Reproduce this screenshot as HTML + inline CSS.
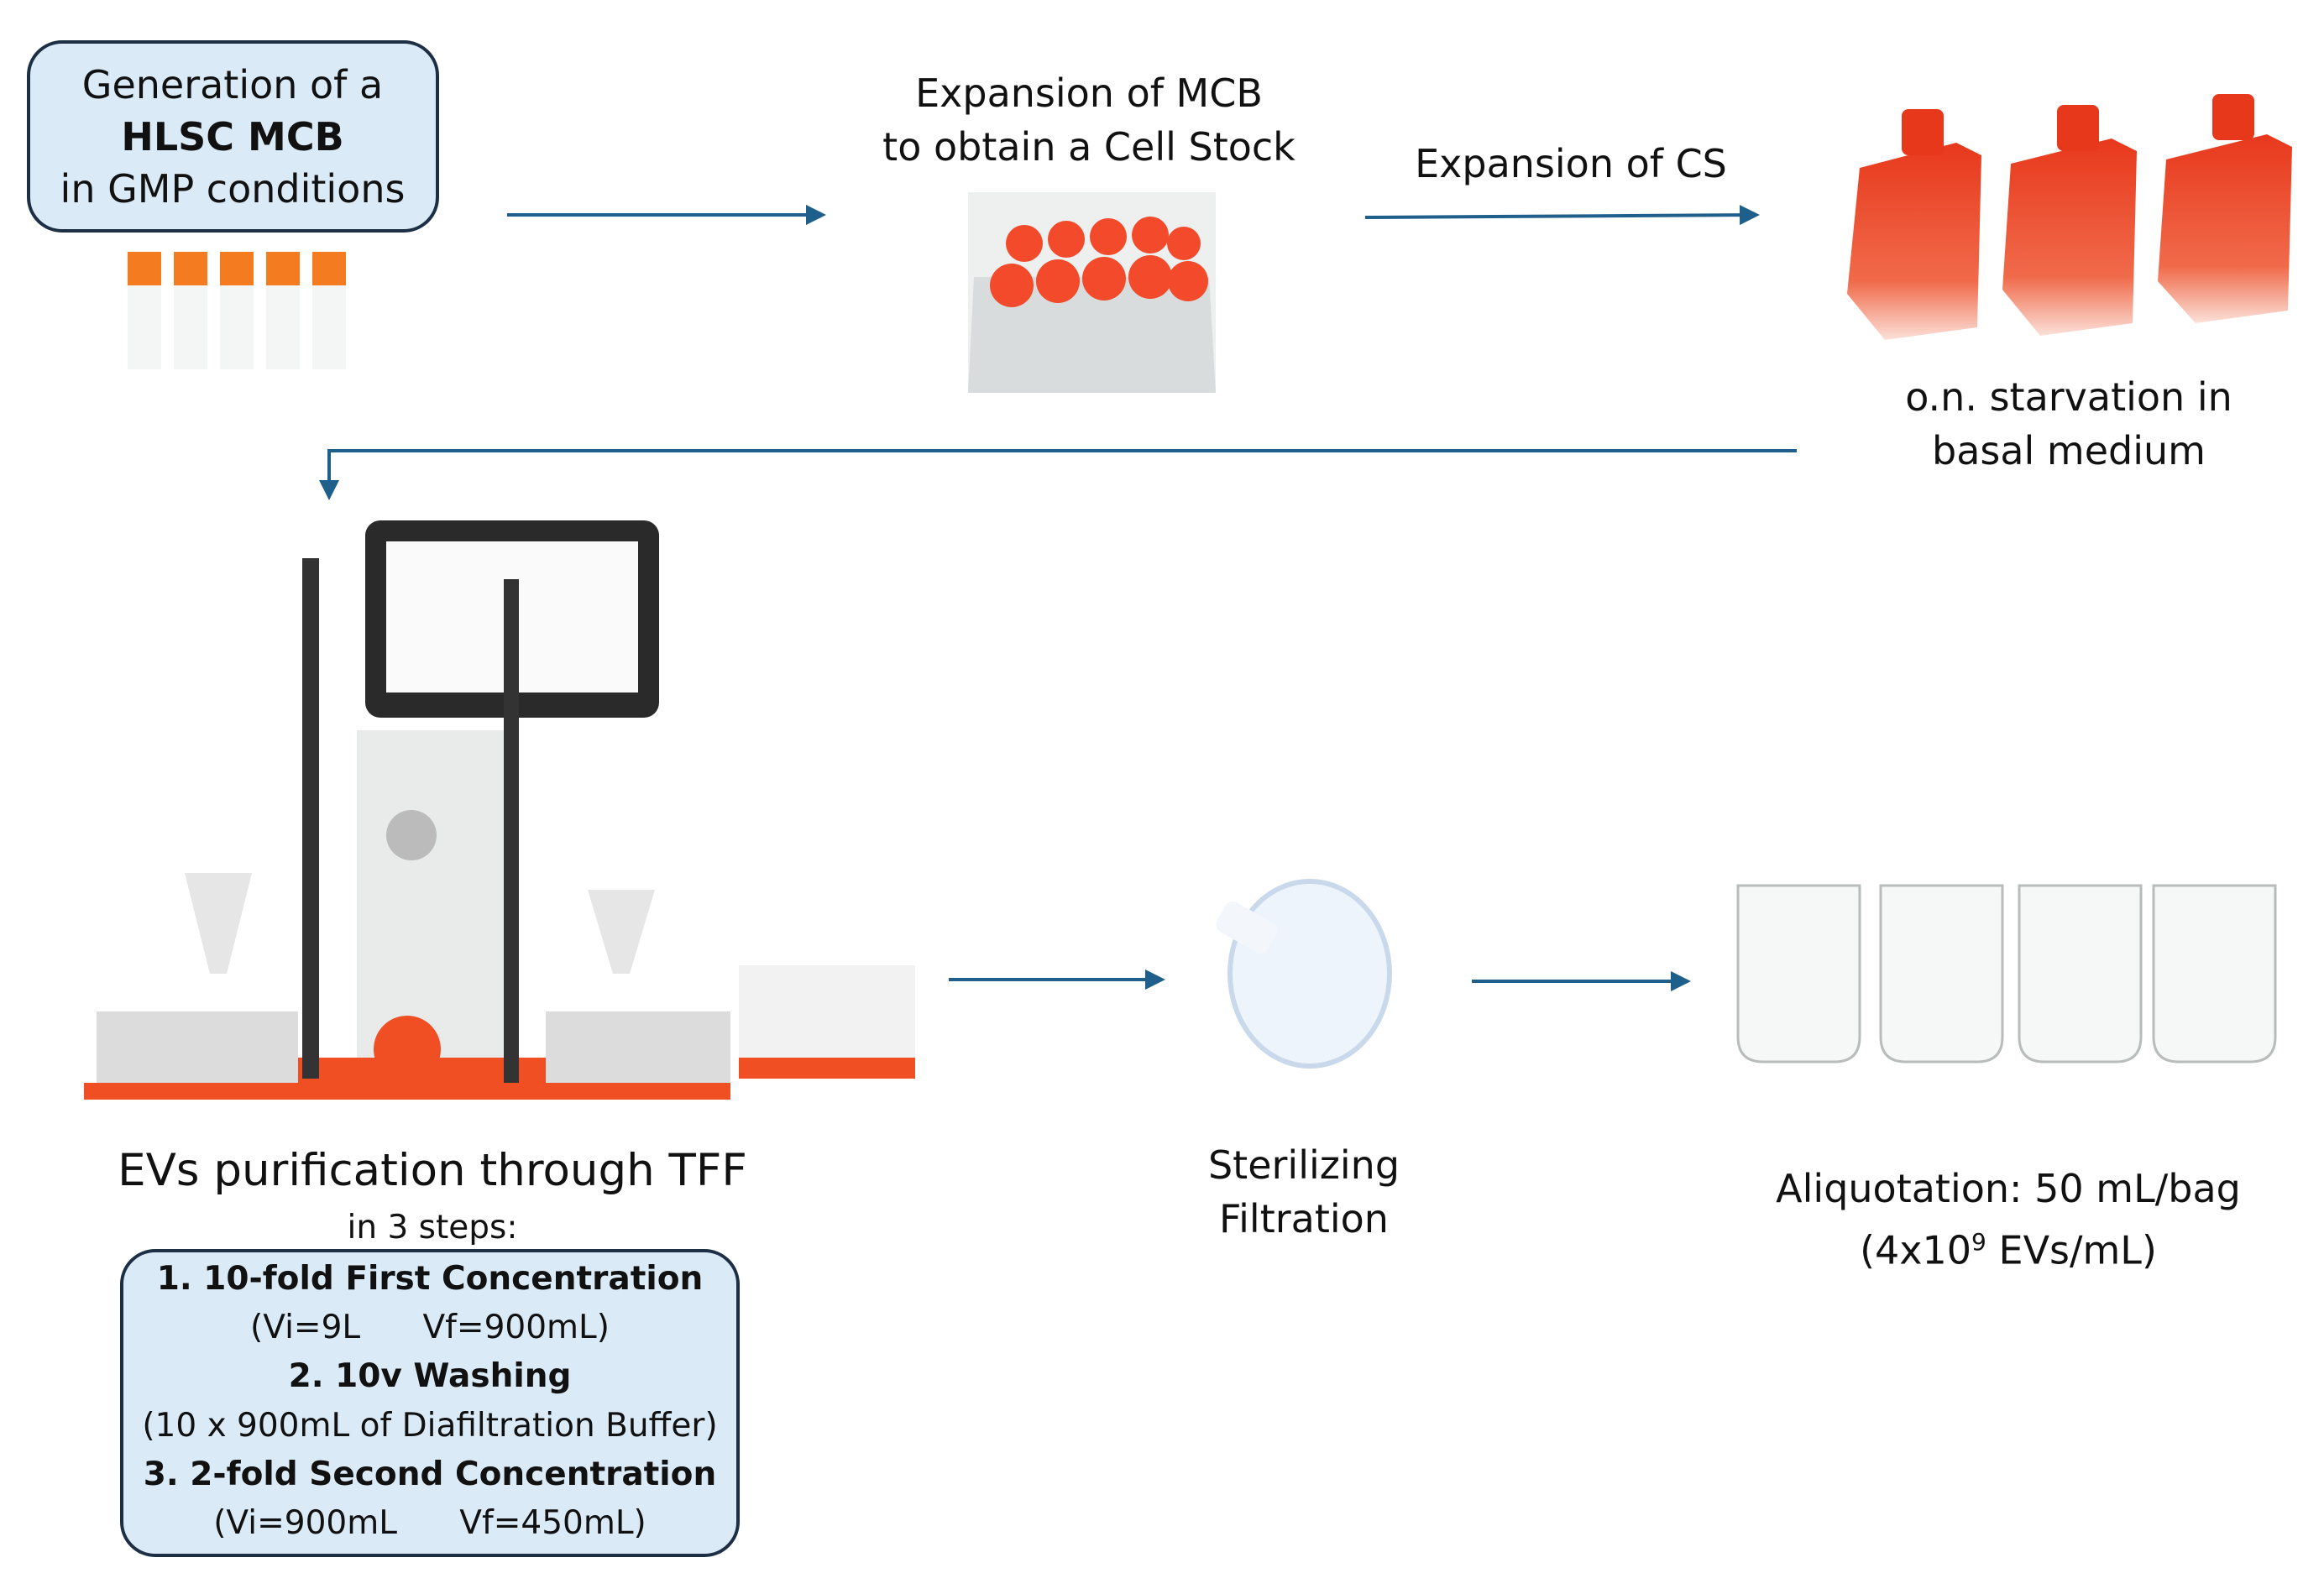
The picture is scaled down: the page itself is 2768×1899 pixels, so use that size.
<!DOCTYPE html>
<html><head><meta charset="utf-8"><style>
html,body{margin:0;padding:0;background:#fff;}
body{width:2768px;height:1899px;position:relative;overflow:hidden;font-family:"DejaVu Sans","Liberation Sans",sans-serif;color:#111;}
.t{position:absolute;text-align:center;white-space:nowrap;transform:translateX(-50%);}
.box{position:absolute;background:#dbeaf7;border:4px solid #1c2f44;border-radius:42px;box-sizing:border-box;}
svg{position:absolute;left:0;top:0;}
</style></head><body>
<svg width="2768" height="1899" viewBox="0 0 2768 1899">
<defs><marker id="a" markerWidth="6" markerHeight="6" refX="5" refY="3" orient="auto" markerUnits="strokeWidth"><path d="M0,0 L6,3 L0,6 z" fill="#1f5f8b"/></marker>
<linearGradient id="fl" x1="0" y1="0" x2="0" y2="1"><stop offset="0" stop-color="#e8381c"/><stop offset="0.7" stop-color="#f06a4a"/><stop offset="1" stop-color="#fbe0d8"/></linearGradient></defs>
<g stroke="#1f5f8b" stroke-width="4" fill="none">
<line x1="604" y1="256" x2="980" y2="256" marker-end="url(#a)"/>
<line x1="1626" y1="259" x2="2092" y2="256" marker-end="url(#a)"/>
<polyline points="2140,537 392,537 392,592" marker-end="url(#a)"/>
<line x1="1130" y1="1167" x2="1384" y2="1167" marker-end="url(#a)"/>
<line x1="1753" y1="1169" x2="2010" y2="1169" marker-end="url(#a)"/>
</g>
<g>
<rect x="152" y="300" width="40" height="140" fill="#f4f6f6"/><rect x="152" y="300" width="40" height="40" fill="#f47b20"/>
<rect x="207" y="300" width="40" height="140" fill="#f4f6f6"/><rect x="207" y="300" width="40" height="40" fill="#f47b20"/>
<rect x="262" y="300" width="40" height="140" fill="#f4f6f6"/><rect x="262" y="300" width="40" height="40" fill="#f47b20"/>
<rect x="317" y="300" width="40" height="140" fill="#f4f6f6"/><rect x="317" y="300" width="40" height="40" fill="#f47b20"/>
<rect x="372" y="300" width="40" height="140" fill="#f4f6f6"/><rect x="372" y="300" width="40" height="40" fill="#f47b20"/>
</g>
<rect x="1153" y="229" width="295" height="239" fill="#eef0f0"/>
<polygon points="1160,330 1440,330 1448,468 1153,468" fill="#d9dcdc"/>
<g fill="#f24a2a">
<circle cx="1220" cy="290" r="22"/><circle cx="1270" cy="285" r="22"/><circle cx="1320" cy="282" r="22"/><circle cx="1370" cy="280" r="22"/><circle cx="1410" cy="290" r="20"/>
<circle cx="1205" cy="340" r="26"/><circle cx="1260" cy="335" r="26"/><circle cx="1315" cy="332" r="26"/><circle cx="1370" cy="330" r="26"/><circle cx="1415" cy="335" r="24"/>
</g>
<g fill="url(#fl)">
<polygon points="2215,200 2330,170 2360,185 2355,390 2245,405 2200,350"/><rect x="2265" y="130" width="50" height="55" rx="8" fill="#e8381c"/>
<polygon points="2395,195 2515,165 2545,180 2540,385 2430,400 2385,345"/><rect x="2450" y="125" width="50" height="55" rx="8" fill="#e8381c"/>
<polygon points="2580,190 2700,160 2730,175 2725,370 2615,385 2570,335"/><rect x="2635" y="112" width="50" height="55" rx="8" fill="#e8381c"/>
</g>
<g>
<rect x="435" y="620" width="350" height="235" rx="18" fill="#2a2a2a"/><rect x="460" y="645" width="300" height="180" fill="#fafafa"/>
<rect x="425" y="870" width="175" height="420" fill="#e9eaea"/><rect x="350" y="1260" width="310" height="50" fill="#f04e23"/>
<rect x="360" y="665" width="20" height="620" fill="#333"/><rect x="600" y="690" width="18" height="600" fill="#333"/>
<rect x="115" y="1205" width="240" height="90" fill="#dcdcdc"/><rect x="100" y="1290" width="260" height="20" fill="#f04e23"/>
<rect x="650" y="1205" width="220" height="90" fill="#dcdcdc"/><rect x="650" y="1290" width="220" height="20" fill="#f04e23"/>
<polygon points="220,1040 300,1040 270,1160 250,1160" fill="#e6e6e6"/><polygon points="700,1060 780,1060 750,1160 730,1160" fill="#e6e6e6"/>
<rect x="880" y="1150" width="210" height="130" fill="#f2f2f2"/><rect x="880" y="1260" width="210" height="25" fill="#f04e23"/>
<circle cx="485" cy="1250" r="40" fill="#f04e23"/><circle cx="490" cy="995" r="30" fill="#bbb"/>
</g>
<ellipse cx="1560" cy="1160" rx="95" ry="110" fill="#eef4fb" stroke="#c9d8ea" stroke-width="6"/>
<rect x="1450" y="1085" width="70" height="40" rx="10" fill="#f3f6fa" transform="rotate(30 1485 1105)"/>
<g fill="#f6f7f7" stroke="#b8bcbc" stroke-width="3">
<path d="M2070,1055 h145 v180 q0,30 -30,30 h-85 q-30,0 -30,-30 z"/>
<path d="M2240,1055 h145 v180 q0,30 -30,30 h-85 q-30,0 -30,-30 z"/>
<path d="M2405,1055 h145 v180 q0,30 -30,30 h-85 q-30,0 -30,-30 z"/>
<path d="M2565,1055 h145 v180 q0,30 -30,30 h-85 q-30,0 -30,-30 z"/>
</g>
</svg>
<div class="box" style="left:32px;top:48px;width:491px;height:229px;"></div>
<div class="t" style="left:277px;top:70px;font-size:46px;line-height:62px;">Generation of a<br><b>HLSC MCB</b><br>in GMP conditions</div>
<div class="t" style="left:1297px;top:79px;font-size:46px;line-height:64px;">Expansion of MCB<br>to obtain a Cell Stock</div>
<div class="t" style="left:1871px;top:168px;font-size:46px;">Expansion of CS</div>
<div class="t" style="left:2464px;top:441px;font-size:46px;line-height:64px;">o.n. starvation in<br>basal medium</div>
<div class="t" style="left:515px;top:1364px;font-size:53px;">EVs purification through TFF</div>
<div class="t" style="left:515px;top:1440px;font-size:39px;">in 3 steps:</div>
<div class="box" style="left:143px;top:1488px;width:738px;height:367px;"></div>
<div class="t" style="left:512px;top:1495px;font-size:39px;line-height:58.2px;"><b>1. 10-fold First Concentration</b><br>(Vi=9L&nbsp;&nbsp;&nbsp;&nbsp;&nbsp;&nbsp;Vf=900mL)<br><b>2. 10v Washing</b><br>(10 x 900mL of Diafiltration Buffer)<br><b>3. 2-fold Second Concentration</b><br>(Vi=900mL&nbsp;&nbsp;&nbsp;&nbsp;&nbsp;&nbsp;Vf=450mL)</div>
<div class="t" style="left:1553px;top:1356px;font-size:46px;line-height:64px;">Sterilizing<br>Filtration</div>
<div class="t" style="left:2392px;top:1384px;font-size:46px;line-height:64px;">Aliquotation: 50 mL/bag<br>(4x10<sup style="font-size:28px">9</sup> EVs/mL)</div>
</body></html>
